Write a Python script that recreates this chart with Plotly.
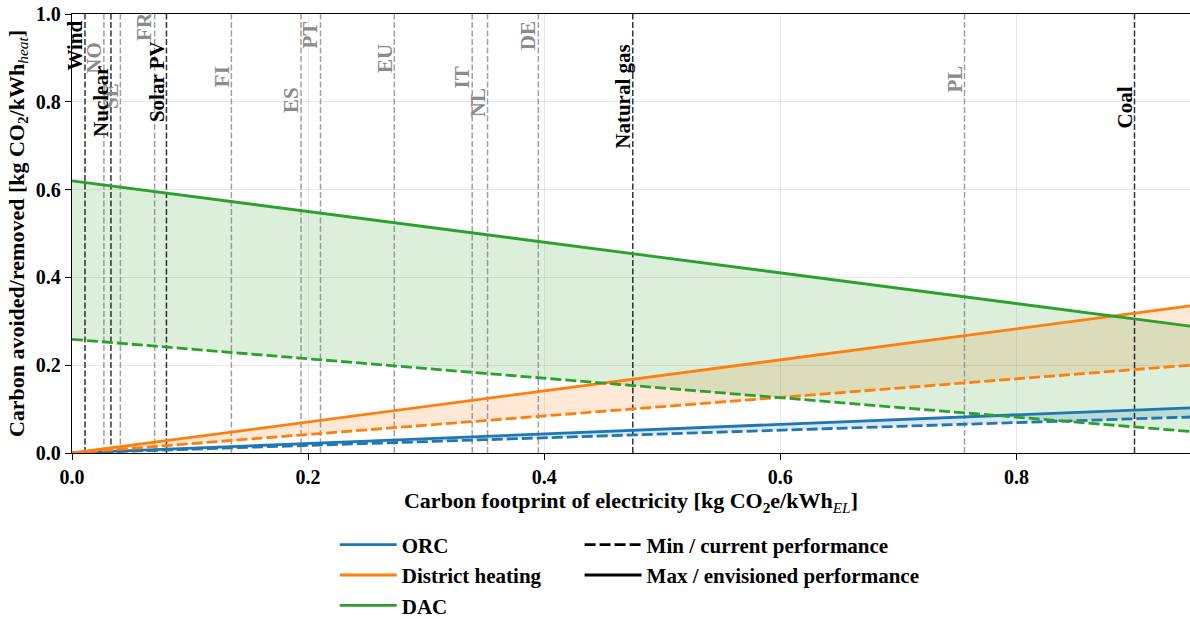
import plotly.graph_objects as go

# Carbon footprint of electricity at both ends of the x axis [kg CO2e/kWh_EL]
x_ends = [0.0, 0.947]

# Carbon avoided/removed per kWh of heat at those two footprints
orc_min = [0.0, 0.082]
orc_max = [0.0, 0.103]
dh_min = [0.0, 0.200]
dh_max = [0.0, 0.335]
dac_min = [0.259, 0.049]
dac_max = [0.620, 0.289]

# Generation technologies (black markers)
source_names = ["Wind", "Nuclear", "Solar PV", "Natural gas", "Coal"]
source_values = [0.011, 0.033, 0.080, 0.475, 0.900]

# Country grid mixes (grey markers)
country_names = ["NO", "SE", "FR", "FI", "ES", "PT", "EU", "IT", "NL", "DE", "PL"]
country_values = [0.027, 0.041, 0.070, 0.135, 0.194, 0.2105, 0.273,
                  0.339, 0.352, 0.395, 0.756]

x_ticks = [0.0, 0.2, 0.4, 0.6, 0.8]
y_ticks = [0.0, 0.2, 0.4, 0.6, 0.8, 1.0]

# vertical placement (data units) of the rotated marker labels, staggered to avoid overlap
label_y = {
    "Wind": 0.928, "NO": 0.900, "Nuclear": 0.802, "SE": 0.814, "FR": 0.972,
    "Solar PV": 0.846, "FI": 0.857, "ES": 0.804, "PT": 0.952, "EU": 0.898,
    "IT": 0.856, "NL": 0.798, "DE": 0.950, "Natural gas": 0.811, "PL": 0.852,
    "Coal": 0.786,
}

FONT = "Liberation Serif"
BLUE, ORANGE, GREEN = "#1f77b4", "#ff7f0e", "#2ca02c"
FILLS = {"ORC": "rgba(31,119,180,0.17)", "District heating": "rgba(255,127,14,0.17)",
         "DAC": "rgba(44,160,44,0.17)"}
GREY_LINE = "rgba(128,128,128,0.75)"
BLACK_LINE = "rgba(0,0,0,0.8)"


def bold(size, color="black"):
    return dict(family=FONT, size=size, color=color, weight="bold")


techs = [
    ("ORC", orc_min, orc_max, BLUE),
    ("District heating", dh_min, dh_max, ORANGE),
    ("DAC", dac_min, dac_max, GREEN),
]

fig = go.Figure()

# shaded range between current and envisioned performance
for name, lo, hi, color in techs:
    fig.add_trace(go.Scatter(x=x_ends, y=lo, mode="lines", line=dict(width=0),
                             showlegend=False, hoverinfo="skip"))
    fig.add_trace(go.Scatter(x=x_ends, y=hi, mode="lines", line=dict(width=0),
                             fill="tonexty", fillcolor=FILLS[name],
                             showlegend=False, hoverinfo="skip"))

# vertical reference lines for grid mixes and technologies
for v in country_values:
    fig.add_trace(go.Scatter(x=[v, v], y=[0, 1], mode="lines",
                             line=dict(color=GREY_LINE, width=1.5, dash="6px,2.5px"),
                             showlegend=False, hoverinfo="skip"))
for v in source_values:
    fig.add_trace(go.Scatter(x=[v, v], y=[0, 1], mode="lines",
                             line=dict(color=BLACK_LINE, width=1.5, dash="6px,2.5px"),
                             showlegend=False, hoverinfo="skip"))

# performance lines
for name, lo, hi, color in techs:
    fig.add_trace(go.Scatter(x=x_ends, y=lo, mode="lines",
                             line=dict(color=color, width=2.8, dash="11px,4px"),
                             showlegend=False, hoverinfo="skip"))
    fig.add_trace(go.Scatter(x=x_ends, y=hi, mode="lines", name=name,
                             line=dict(color=color, width=2.8), legend="legend"))

# style legend entries
fig.add_trace(go.Scatter(x=[None], y=[None], mode="lines", name="Min / current performance",
                         line=dict(color="black", width=2.8, dash="11px,4px"), legend="legend2"))
fig.add_trace(go.Scatter(x=[None], y=[None], mode="lines", name="Max / envisioned performance",
                         line=dict(color="black", width=2.8), legend="legend2"))

annotations = []
for names, values, color in [(country_names, country_values, "rgb(140,140,140)"),
                             (source_names, source_values, "black")]:
    for n, v in zip(names, values):
        annotations.append(dict(
            x=v, y=label_y[n], xref="x", yref="y", text=n, textangle=-90,
            showarrow=False, xanchor="center", yanchor="middle", xshift=-10,
            font=bold(21, color)))

legend_common = dict(
    font=bold(21),
    bgcolor="rgba(0,0,0,0)", orientation="v", xanchor="left", yanchor="top",
    tracegroupgap=0, itemwidth=57, traceorder="normal",
)

fig.update_layout(
    width=1190, height=619,
    margin=dict(l=72, r=0, t=14, b=166, autoexpand=False),
    paper_bgcolor="white", plot_bgcolor="white",
    font=dict(family=FONT, size=20, color="black"),
    annotations=annotations,
    legend=dict(x=0.235, y=-0.163, **legend_common),
    legend2=dict(x=0.454, y=-0.163, **legend_common),
    xaxis=dict(
        range=[0, 0.947], tickvals=x_ticks, tickformat=".1f", tickfont=bold(20),
        showgrid=True, gridcolor="rgba(0,0,0,0.09)", gridwidth=1,
        showline=True, linecolor="black", linewidth=1.4, mirror=True,
        ticks="outside", ticklen=6, tickwidth=1.2, tickcolor="black",
        zeroline=False, automargin=False,
        title=dict(text="Carbon footprint of electricity [kg CO<sub>2</sub>e/kWh<sub>"
                        "<span style='font-weight:normal'><i>EL</i></span></sub>]",
                   font=bold(22), standoff=3),
    ),
    yaxis=dict(
        range=[0, 1], tickvals=y_ticks, tickformat=".1f", tickfont=bold(20),
        showgrid=True, gridcolor="rgba(0,0,0,0.09)", gridwidth=1,
        showline=True, linecolor="black", linewidth=1.4,
        ticks="outside", ticklen=6, tickwidth=1.2, tickcolor="black",
        zeroline=False, automargin=False,
        title=dict(text="Carbon avoided/removed [kg CO<sub>2</sub>/kWh<sub>"
                        "<span style='font-weight:normal'><i>heat</i></span></sub>]",
                   font=bold(22), standoff=5),
    ),
)

fig.write_html("out.html")
